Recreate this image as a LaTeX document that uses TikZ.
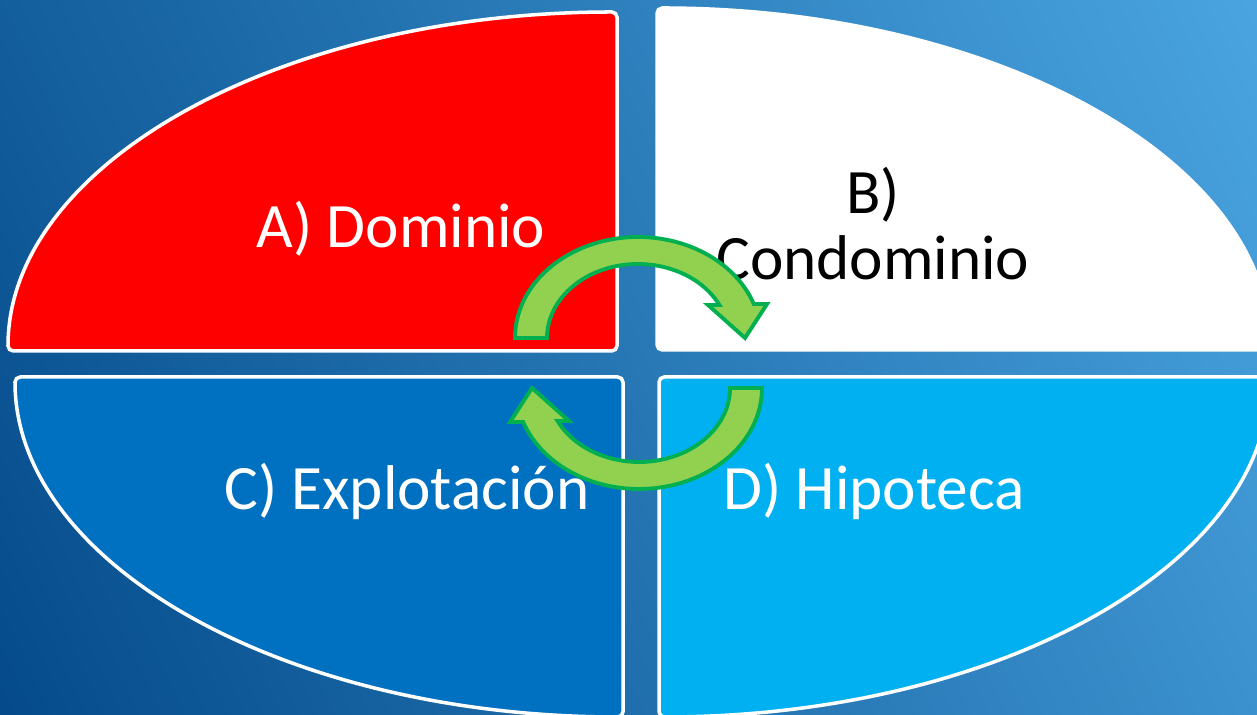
\documentclass[tikz,border=0pt]{standalone}
\usepackage{fontspec}
\setmainfont{Carlito}
\definecolor{bgdark}{HTML}{044A8A}
\definecolor{bglight}{HTML}{4AA5E0}
\definecolor{qred}{HTML}{FF0000}
\definecolor{qblue}{HTML}{0070C0}
\definecolor{qcyan}{HTML}{00B0F0}
\definecolor{arrowfill}{HTML}{92D050}
\definecolor{arrowline}{HTML}{00B050}
\begin{document}
\begin{tikzpicture}[x=0.02cm,y=0.02cm,
  quad/.style={draw=white,line width=2pt,rounded corners=3},
  garrow/.style={fill=arrowfill,draw=arrowline,line width=2.2pt,line join=miter},
  lbl/.style={font=\fontsize{36}{37.6}\selectfont,anchor=base,inner sep=0pt,align=center}]
\useasboundingbox (0,0) rectangle (1257,715);
\begin{scope}
  \clip (0,0) rectangle (1257,715);
  \begin{scope}[transform canvas={rotate around={25:(628.5,357.5)}}]
    \shade[left color=bgdark,right color=bglight] (-101.5,-242.5) rectangle (1358.5,957.5);
  \end{scope}
  % quadrants
  \draw[quad,fill=qred] (617,364) -- (8,364) arc[start angle=180,end angle=90,x radius=609,y radius=339] -- cycle;
  \draw[quad,fill=white] (657,365) -- (657,707) arc[start angle=90,end angle=0,x radius=613,y radius=342] -- cycle;
  \draw[quad,fill=qblue] (623,338) -- (15,338) arc[start angle=180,end angle=270,x radius=608,y radius=340] -- cycle;
  \draw[quad,fill=qcyan] (659,338) -- (1269,338) arc[start angle=0,end angle=-90,x radius=610,y radius=340] -- cycle;
\end{scope}
% labels
\node[lbl,text=white] (ta) at (401,467) {A) Dominio};
\node[lbl,text=black] (tb) at (873,435) {B)\\Condominio};
\node[lbl,text=white] (tc) at (407,205) {C) Explotación};
\node[lbl,text=white] (td) at (874,205) {D) Hipoteca};
% circular arrows
\draw[garrow] (515,377) arc[start angle=180,end angle=19.7,x radius=123,y radius=101]
  -- (767,411) -- (745,377) -- (708,410) -- (719.4,410.0)
  arc[start angle=26.5,end angle=180,x radius=91,y radius=74] -- cycle;
\begin{scope}[rotate around={180:(638.5,352)}]
\draw[garrow] (515,377) arc[start angle=180,end angle=19.7,x radius=123,y radius=101]
  -- (767,411) -- (745,377) -- (708,410) -- (719.4,410.0)
  arc[start angle=26.5,end angle=180,x radius=91,y radius=74] -- cycle;
\end{scope}
\end{tikzpicture}
\end{document}
